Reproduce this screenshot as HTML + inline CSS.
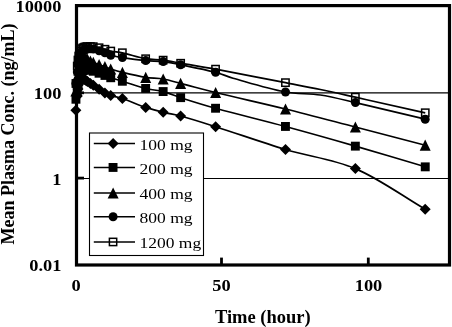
<!DOCTYPE html>
<html><head><meta charset="utf-8"><title>chart</title>
<style>
html,body{margin:0;padding:0;background:#fff;}
body{width:452px;height:327px;overflow:hidden;}
svg{display:block;filter:grayscale(1);}
text{font-family:"Liberation Serif",serif;fill:#000;}
.tk{font-weight:bold;font-size:17.5px;}
.ti{font-weight:bold;font-size:18px;}
.lg{font-size:15.2px;}
</style></head><body>
<svg width="452" height="327" viewBox="0 0 452 327">
<rect width="452" height="327" fill="#fff"/>
<!-- gridlines -->
<line x1="78" y1="92.9" x2="448" y2="92.9" stroke="#000" stroke-width="1.25"/>
<line x1="78" y1="178.45" x2="448" y2="178.45" stroke="#000" stroke-width="1.1"/>
<!-- frame -->
<rect x="76.5" y="5.6" width="373" height="259.4" fill="none" stroke="#000" stroke-width="3.2"/>
<!-- ticks -->
<g stroke="#000" stroke-width="2.8">
<line x1="78" y1="92.8" x2="84" y2="92.8"/>
<line x1="78" y1="178.1" x2="84" y2="178.1"/>
<line x1="221.5" y1="257.6" x2="221.5" y2="264"/>
<line x1="368.3" y1="257.6" x2="368.3" y2="264"/>
</g>
<g fill="none" stroke="#000" stroke-width="1.7" stroke-linejoin="round">
<path d="M75.95,110.30C76.38,105.53 76.80,100.76 77.26,96.00C77.48,93.66 77.70,91.33 77.98,89.00C78.19,87.33 78.31,85.64 78.71,84.00C79.05,82.62 79.50,81.25 80.17,80.00C80.49,79.38 80.98,78.77 81.62,78.50C82.08,78.31 82.62,78.62 83.08,78.80C83.60,79.00 84.06,79.32 84.54,79.60C85.03,79.89 85.51,80.19 85.99,80.50C86.49,80.82 86.96,81.17 87.45,81.50C88.41,82.14 89.39,82.77 90.36,83.40C91.33,84.03 92.31,84.66 93.27,85.30C95.22,86.59 97.15,87.91 99.10,89.20C101.03,90.48 102.88,91.90 104.92,93.00C106.78,94.01 108.73,94.87 110.74,95.50C114.57,96.70 118.60,97.21 122.39,98.50C130.26,101.18 137.81,104.73 145.69,107.40C151.42,109.34 157.29,110.85 163.16,112.30C168.94,113.72 174.89,114.42 180.63,116.00C192.38,119.23 203.97,122.99 215.58,126.70C238.92,134.16 261.99,142.46 285.46,149.50C308.60,156.43 333.15,159.10 355.35,168.60C380.14,179.20 401.94,195.73 425.24,209.30"/>
<path d="M75.95,99.30C76.38,96.53 76.83,93.77 77.26,91.00C77.51,89.34 77.73,87.66 77.98,86.00C78.21,84.50 78.39,82.98 78.71,81.50C79.12,79.65 79.58,77.80 80.17,76.00C80.56,74.80 81.02,73.61 81.62,72.50C82.00,71.80 82.50,71.15 83.08,70.60C83.49,70.20 84.00,69.90 84.54,69.70C84.99,69.53 85.50,69.52 85.99,69.50C86.48,69.48 86.97,69.51 87.45,69.60C88.43,69.78 89.40,70.02 90.36,70.30C91.35,70.59 92.30,70.97 93.27,71.30C95.21,71.97 97.17,72.60 99.10,73.30C101.05,74.00 102.98,74.75 104.92,75.50C106.87,76.25 108.76,77.15 110.74,77.80C114.59,79.05 118.52,80.02 122.39,81.20C130.17,83.58 137.80,86.49 145.69,88.50C151.42,89.96 157.44,90.09 163.16,91.60C169.13,93.17 174.75,95.83 180.63,97.70C192.23,101.40 203.84,105.08 215.58,108.30C238.79,114.68 262.23,120.22 285.46,126.50C308.82,132.82 332.10,139.40 355.35,146.10C378.70,152.83 401.94,159.90 425.24,166.80"/>
<path d="M75.95,91.00C76.38,88.00 76.87,85.01 77.26,82.00C77.55,79.67 77.70,77.33 77.98,75.00C78.19,73.33 78.38,71.65 78.71,70.00C79.11,67.98 79.56,65.97 80.17,64.00C80.54,62.79 81.00,61.60 81.62,60.50C81.98,59.87 82.50,59.33 83.08,58.90C83.50,58.58 84.02,58.39 84.54,58.30C85.02,58.22 85.52,58.29 85.99,58.40C86.50,58.52 87.00,58.73 87.45,59.00C88.46,59.60 89.34,60.42 90.36,61.00C91.28,61.52 92.29,61.89 93.27,62.30C95.21,63.12 97.13,63.96 99.10,64.70C101.02,65.43 102.99,65.99 104.92,66.70C106.88,67.42 108.76,68.35 110.74,69.00C114.59,70.25 118.46,71.45 122.39,72.40C130.11,74.26 137.85,76.13 145.69,77.40C151.46,78.33 157.40,78.01 163.16,79.00C169.08,80.02 174.82,81.90 180.63,83.40C192.29,86.40 203.88,89.64 215.58,92.50C238.83,98.18 262.22,103.26 285.46,109.00C308.82,114.76 332.06,120.97 355.35,127.00C378.66,133.04 401.94,139.13 425.24,145.20"/>
<path d="M75.95,83.50C76.38,79.67 76.83,75.83 77.26,72.00C77.51,69.67 77.69,67.33 77.98,65.00C78.17,63.49 78.39,61.98 78.71,60.50C79.12,58.65 79.55,56.79 80.17,55.00C80.53,53.95 80.99,52.91 81.62,52.00C81.98,51.48 82.56,51.16 83.08,50.80C83.54,50.49 84.04,50.24 84.54,50.00C85.01,49.77 85.50,49.57 85.99,49.40C86.47,49.24 86.95,49.07 87.45,49.00C88.41,48.87 89.39,48.80 90.36,48.80C91.33,48.80 92.32,48.78 93.27,49.00C95.25,49.45 97.16,50.17 99.10,50.80C101.05,51.44 103.00,52.07 104.92,52.80C106.88,53.54 108.72,54.64 110.74,55.20C114.57,56.25 118.47,56.99 122.39,57.60C130.13,58.80 137.90,59.84 145.69,60.60C151.49,61.17 157.37,60.92 163.16,61.60C169.03,62.29 174.84,63.52 180.63,64.70C192.31,67.08 204.03,69.33 215.58,72.30C221.53,73.83 227.13,76.53 233.05,78.20C250.44,83.10 267.72,88.59 285.46,92.00C296.94,94.21 308.85,93.25 320.41,95.00C332.19,96.79 343.74,99.92 355.35,102.60C378.68,107.99 401.94,113.67 425.24,119.20"/>
<path d="M75.95,83.50C76.38,77.67 76.75,71.83 77.26,66.00C77.43,63.99 77.69,61.99 77.98,60.00C78.18,58.66 78.39,57.32 78.71,56.00C79.12,54.31 79.53,52.62 80.17,51.00C80.51,50.13 81.00,49.30 81.62,48.60C82.00,48.17 82.57,47.96 83.08,47.70C83.55,47.46 84.03,47.26 84.54,47.10C85.01,46.95 85.50,46.88 85.99,46.80C86.47,46.72 86.96,46.63 87.45,46.60C88.42,46.53 89.39,46.50 90.36,46.50C91.33,46.50 92.31,46.46 93.27,46.60C95.23,46.89 97.17,47.35 99.10,47.80C101.05,48.25 102.99,48.77 104.92,49.30C106.87,49.84 108.76,50.60 110.74,51.00C114.60,51.77 118.56,51.95 122.39,52.80C130.21,54.52 137.80,57.29 145.69,58.70C151.44,59.73 157.37,59.35 163.16,60.10C169.03,60.86 174.80,62.19 180.63,63.20C192.28,65.22 203.96,67.04 215.58,69.20C238.90,73.54 262.17,78.19 285.46,82.70C297.11,84.96 308.79,87.09 320.41,89.50C332.09,91.92 343.71,94.61 355.35,97.20C378.65,102.38 401.94,107.60 425.24,112.80"/>
</g>
<g fill="#000">
<path d="M75.9,104.8L81.4,110.3L75.9,115.8L70.4,110.3Z"/>
<path d="M77.3,90.5L82.8,96.0L77.3,101.5L71.8,96.0Z"/>
<path d="M78.0,83.5L83.5,89.0L78.0,94.5L72.5,89.0Z"/>
<path d="M78.7,78.5L84.2,84.0L78.7,89.5L73.2,84.0Z"/>
<path d="M80.2,74.5L85.7,80.0L80.2,85.5L74.7,80.0Z"/>
<path d="M81.6,73.0L87.1,78.5L81.6,84.0L76.1,78.5Z"/>
<path d="M83.1,73.3L88.6,78.8L83.1,84.3L77.6,78.8Z"/>
<path d="M84.5,74.1L90.0,79.6L84.5,85.1L79.0,79.6Z"/>
<path d="M86.0,75.0L91.5,80.5L86.0,86.0L80.5,80.5Z"/>
<path d="M87.4,76.0L92.9,81.5L87.4,87.0L81.9,81.5Z"/>
<path d="M90.4,77.9L95.9,83.4L90.4,88.9L84.9,83.4Z"/>
<path d="M93.3,79.8L98.8,85.3L93.3,90.8L87.8,85.3Z"/>
<path d="M99.1,83.7L104.6,89.2L99.1,94.7L93.6,89.2Z"/>
<path d="M104.9,87.5L110.4,93.0L104.9,98.5L99.4,93.0Z"/>
<path d="M110.7,90.0L116.2,95.5L110.7,101.0L105.2,95.5Z"/>
<path d="M122.4,93.0L127.9,98.5L122.4,104.0L116.9,98.5Z"/>
<path d="M145.7,101.9L151.2,107.4L145.7,112.9L140.2,107.4Z"/>
<path d="M163.2,106.8L168.7,112.3L163.2,117.8L157.7,112.3Z"/>
<path d="M180.6,110.5L186.1,116.0L180.6,121.5L175.1,116.0Z"/>
<path d="M215.6,121.2L221.1,126.7L215.6,132.2L210.1,126.7Z"/>
<path d="M285.5,144.0L291.0,149.5L285.5,155.0L280.0,149.5Z"/>
<path d="M355.4,163.1L360.9,168.6L355.4,174.1L349.9,168.6Z"/>
<path d="M425.2,203.8L430.7,209.3L425.2,214.8L419.7,209.3Z"/>
</g>
<g fill="#000">
<rect x="71.5" y="94.8" width="8.9" height="8.9"/>
<rect x="72.8" y="86.5" width="8.9" height="8.9"/>
<rect x="73.5" y="81.5" width="8.9" height="8.9"/>
<rect x="74.3" y="77.0" width="8.9" height="8.9"/>
<rect x="75.7" y="71.5" width="8.9" height="8.9"/>
<rect x="77.2" y="68.0" width="8.9" height="8.9"/>
<rect x="78.6" y="66.1" width="8.9" height="8.9"/>
<rect x="80.1" y="65.2" width="8.9" height="8.9"/>
<rect x="81.5" y="65.0" width="8.9" height="8.9"/>
<rect x="83.0" y="65.1" width="8.9" height="8.9"/>
<rect x="85.9" y="65.8" width="8.9" height="8.9"/>
<rect x="88.8" y="66.8" width="8.9" height="8.9"/>
<rect x="94.6" y="68.8" width="8.9" height="8.9"/>
<rect x="100.5" y="71.0" width="8.9" height="8.9"/>
<rect x="106.3" y="73.3" width="8.9" height="8.9"/>
<rect x="117.9" y="76.8" width="8.9" height="8.9"/>
<rect x="141.2" y="84.0" width="8.9" height="8.9"/>
<rect x="158.7" y="87.1" width="8.9" height="8.9"/>
<rect x="176.2" y="93.2" width="8.9" height="8.9"/>
<rect x="211.1" y="103.8" width="8.9" height="8.9"/>
<rect x="281.0" y="122.0" width="8.9" height="8.9"/>
<rect x="350.9" y="141.7" width="8.9" height="8.9"/>
<rect x="420.8" y="162.4" width="8.9" height="8.9"/>
</g>
<g fill="#000">
<path d="M75.9,85.4L81.4,96.6L70.4,96.6Z"/>
<path d="M77.3,76.4L82.8,87.6L71.8,87.6Z"/>
<path d="M78.0,69.4L83.5,80.6L72.5,80.6Z"/>
<path d="M78.7,64.4L84.2,75.6L73.2,75.6Z"/>
<path d="M80.2,58.4L85.7,69.6L74.7,69.6Z"/>
<path d="M81.6,54.9L87.1,66.1L76.1,66.1Z"/>
<path d="M83.1,53.3L88.6,64.5L77.6,64.5Z"/>
<path d="M84.5,52.7L90.0,63.9L79.0,63.9Z"/>
<path d="M86.0,52.8L91.5,64.0L80.5,64.0Z"/>
<path d="M87.4,53.4L92.9,64.6L81.9,64.6Z"/>
<path d="M90.4,55.4L95.9,66.6L84.9,66.6Z"/>
<path d="M93.3,56.7L98.8,67.9L87.8,67.9Z"/>
<path d="M99.1,59.1L104.6,70.3L93.6,70.3Z"/>
<path d="M104.9,61.1L110.4,72.3L99.4,72.3Z"/>
<path d="M110.7,63.4L116.2,74.6L105.2,74.6Z"/>
<path d="M122.4,66.8L127.9,78.0L116.9,78.0Z"/>
<path d="M145.7,71.8L151.2,83.0L140.2,83.0Z"/>
<path d="M163.2,73.4L168.7,84.6L157.7,84.6Z"/>
<path d="M180.6,77.8L186.1,89.0L175.1,89.0Z"/>
<path d="M215.6,86.9L221.1,98.1L210.1,98.1Z"/>
<path d="M285.5,103.4L291.0,114.6L280.0,114.6Z"/>
<path d="M355.4,121.4L360.9,132.6L349.9,132.6Z"/>
<path d="M425.2,139.6L430.7,150.8L419.7,150.8Z"/>
</g>
<g fill="#000">
<circle cx="75.9" cy="83.5" r="4.5"/>
<circle cx="77.3" cy="72.0" r="4.5"/>
<circle cx="78.0" cy="65.0" r="4.5"/>
<circle cx="78.7" cy="60.5" r="4.5"/>
<circle cx="80.2" cy="55.0" r="4.5"/>
<circle cx="81.6" cy="52.0" r="4.5"/>
<circle cx="83.1" cy="50.8" r="4.5"/>
<circle cx="84.5" cy="50.0" r="4.5"/>
<circle cx="86.0" cy="49.4" r="4.5"/>
<circle cx="87.4" cy="49.0" r="4.5"/>
<circle cx="90.4" cy="48.8" r="4.5"/>
<circle cx="93.3" cy="49.0" r="4.5"/>
<circle cx="99.1" cy="50.8" r="4.5"/>
<circle cx="104.9" cy="52.8" r="4.5"/>
<circle cx="110.7" cy="55.2" r="4.5"/>
<circle cx="122.4" cy="57.6" r="4.5"/>
<circle cx="145.7" cy="60.6" r="4.5"/>
<circle cx="163.2" cy="61.6" r="4.5"/>
<circle cx="180.6" cy="64.7" r="4.5"/>
<circle cx="215.6" cy="72.3" r="4.5"/>
<circle cx="285.5" cy="92.0" r="4.5"/>
<circle cx="355.4" cy="102.6" r="4.5"/>
<circle cx="425.2" cy="119.2" r="4.5"/>
</g>
<g fill="#000">
<rect x="72.3" y="79.8" width="7.3" height="7.3" fill="none" stroke="#000" stroke-width="1.5"/>
<rect x="73.6" y="62.4" width="7.3" height="7.3" fill="none" stroke="#000" stroke-width="1.5"/>
<rect x="74.3" y="56.4" width="7.3" height="7.3" fill="none" stroke="#000" stroke-width="1.5"/>
<rect x="75.1" y="52.4" width="7.3" height="7.3" fill="none" stroke="#000" stroke-width="1.5"/>
<rect x="76.5" y="47.4" width="7.3" height="7.3" fill="none" stroke="#000" stroke-width="1.5"/>
<rect x="78.0" y="45.0" width="7.3" height="7.3" fill="none" stroke="#000" stroke-width="1.5"/>
<rect x="79.4" y="44.1" width="7.3" height="7.3" fill="none" stroke="#000" stroke-width="1.5"/>
<rect x="80.9" y="43.5" width="7.3" height="7.3" fill="none" stroke="#000" stroke-width="1.5"/>
<rect x="82.3" y="43.1" width="7.3" height="7.3" fill="none" stroke="#000" stroke-width="1.5"/>
<rect x="83.8" y="43.0" width="7.3" height="7.3" fill="none" stroke="#000" stroke-width="1.5"/>
<rect x="86.7" y="42.9" width="7.3" height="7.3" fill="none" stroke="#000" stroke-width="1.5"/>
<rect x="89.6" y="43.0" width="7.3" height="7.3" fill="none" stroke="#000" stroke-width="1.5"/>
<rect x="95.4" y="44.1" width="7.3" height="7.3" fill="none" stroke="#000" stroke-width="1.5"/>
<rect x="101.3" y="45.6" width="7.3" height="7.3" fill="none" stroke="#000" stroke-width="1.5"/>
<rect x="107.1" y="47.4" width="7.3" height="7.3" fill="none" stroke="#000" stroke-width="1.5"/>
<rect x="118.7" y="49.1" width="7.3" height="7.3" fill="none" stroke="#000" stroke-width="1.5"/>
<rect x="142.0" y="55.1" width="7.3" height="7.3" fill="none" stroke="#000" stroke-width="1.5"/>
<rect x="159.5" y="56.5" width="7.3" height="7.3" fill="none" stroke="#000" stroke-width="1.5"/>
<rect x="177.0" y="59.6" width="7.3" height="7.3" fill="none" stroke="#000" stroke-width="1.5"/>
<rect x="211.9" y="65.5" width="7.3" height="7.3" fill="none" stroke="#000" stroke-width="1.5"/>
<rect x="281.8" y="79.0" width="7.3" height="7.3" fill="none" stroke="#000" stroke-width="1.5"/>
<rect x="351.7" y="93.5" width="7.3" height="7.3" fill="none" stroke="#000" stroke-width="1.5"/>
<rect x="421.6" y="109.1" width="7.3" height="7.3" fill="none" stroke="#000" stroke-width="1.5"/>
</g>
<rect x="89.5" y="133.0" width="114" height="122.5" fill="#fff" stroke="#000" stroke-width="1.1"/>
<line x1="93.8" y1="143.4" x2="135" y2="143.4" stroke="#000" stroke-width="1.5"/>
<g fill="#000"><path d="M113.1,137.9L118.6,143.4L113.1,148.9L107.6,143.4Z"/></g>
<text x="139.6" y="149.6" class="lg" textLength="53.0" lengthAdjust="spacingAndGlyphs">100 mg</text>
<line x1="93.8" y1="167.4" x2="135" y2="167.4" stroke="#000" stroke-width="1.5"/>
<g fill="#000"><rect x="108.6" y="163.0" width="8.9" height="8.9"/></g>
<text x="139.6" y="173.6" class="lg" textLength="53.0" lengthAdjust="spacingAndGlyphs">200 mg</text>
<line x1="93.8" y1="193.0" x2="135" y2="193.0" stroke="#000" stroke-width="1.5"/>
<g fill="#000"><path d="M113.1,187.4L118.6,198.6L107.6,198.6Z"/></g>
<text x="139.6" y="199.2" class="lg" textLength="53.0" lengthAdjust="spacingAndGlyphs">400 mg</text>
<line x1="93.8" y1="216.8" x2="135" y2="216.8" stroke="#000" stroke-width="1.5"/>
<g fill="#000"><circle cx="113.1" cy="216.8" r="4.5"/></g>
<text x="139.6" y="223.0" class="lg" textLength="53.0" lengthAdjust="spacingAndGlyphs">800 mg</text>
<line x1="93.8" y1="242.0" x2="135" y2="242.0" stroke="#000" stroke-width="1.5"/>
<g fill="#000"><rect x="109.4" y="238.3" width="7.3" height="7.3" fill="none" stroke="#000" stroke-width="1.5"/></g>
<text x="139.6" y="248.2" class="lg" textLength="61.6" lengthAdjust="spacingAndGlyphs">1200 mg</text>
<!-- axis labels -->
<text class="tk" x="61.4" y="12.3" text-anchor="end" textLength="45.9" lengthAdjust="spacingAndGlyphs">10000</text>
<text class="tk" x="61.4" y="98.7" text-anchor="end" textLength="27.6" lengthAdjust="spacingAndGlyphs">100</text>
<text class="tk" x="61.4" y="184.6" text-anchor="end" textLength="9.2" lengthAdjust="spacingAndGlyphs">1</text>
<text class="tk" x="61.4" y="270.6" text-anchor="end" textLength="32.2" lengthAdjust="spacingAndGlyphs">0.01</text>
<text class="tk" x="76" y="291" text-anchor="middle" textLength="9.2" lengthAdjust="spacingAndGlyphs">0</text>
<text class="tk" x="221.5" y="291" text-anchor="middle" textLength="18.4" lengthAdjust="spacingAndGlyphs">50</text>
<text class="tk" x="368.5" y="291" text-anchor="middle" textLength="27.6" lengthAdjust="spacingAndGlyphs">100</text>
<text class="ti" x="262.8" y="323.2" text-anchor="middle" style="font-size:18.5px">Time (hour)</text>
<text class="ti" transform="translate(14,134) rotate(-90)" text-anchor="middle">Mean Plasma Conc. (ng/mL)</text>
</svg>
</body></html>
